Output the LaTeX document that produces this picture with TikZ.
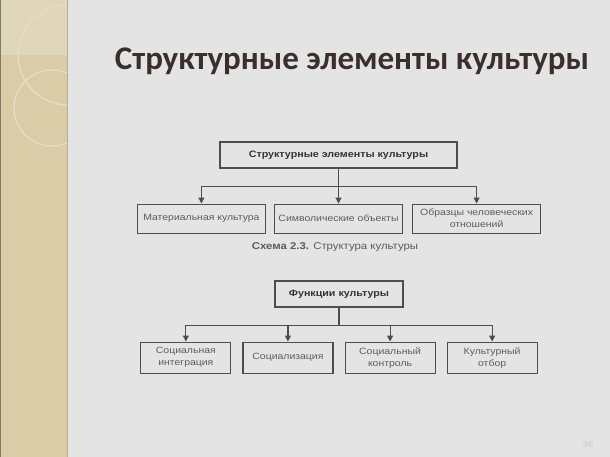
\documentclass[tikz,border=0pt]{standalone}
\usepackage{fontspec}
\setmainfont[FakeStretch=1.15]{Liberation Sans}
\newfontfamily\titlefont{Carlito}
\usetikzlibrary{positioning,arrows.meta}
\definecolor{slidebg}{HTML}{E4E4E4}
\definecolor{bandbg}{HTML}{DACCA7}
\definecolor{bandtop}{HTML}{E0D6BA}
\definecolor{ringcol}{HTML}{E6DCC3}
\definecolor{titlecol}{HTML}{3A2F2B}
\definecolor{boxline}{HTML}{4E4E4E}
\definecolor{boxtext}{HTML}{5C5C5C}

\begin{document}
\begin{tikzpicture}[
    x=1pt, y=-1pt,
    box/.style={draw=boxline, line width=1.1pt, fill=slidebg, text=boxtext, align=center,
        inner sep=1pt, font=\fontsize{9.1}{12}\selectfont},
    headbox/.style={box, font=\fontsize{9.3}{12}\selectfont\bfseries, text=black!80},
    topbox/.style={box, minimum width=128pt, minimum height=29pt},
    funbox/.style={box, minimum width=90pt, minimum height=31pt},
    link/.style={draw=boxline, line width=1.1pt},
    arr/.style={link, -{Triangle[length=6pt,width=6pt]}},
]
% slide background
\fill[slidebg] (0,0) rectangle (610,457);
\useasboundingbox (0,0) rectangle (610,457);
\fill[bandbg] (0,0) rectangle (67,457);
\fill[bandtop] (0,0) rectangle (67,55);
\begin{scope}
  \clip (0,0) rectangle (67,457);
  \draw[ringcol, line width=1.5pt] (68,55) circle[radius=50];
  \draw[ringcol, line width=1.5pt] (52,108) circle[radius=38];
\end{scope}
\draw[bandbg!85!black, line width=1pt] (67,0) -- (67,457);
\draw[bandbg!60!black, line width=1pt] (0.5,0) -- (0.5,457);

% title
\node[font=\titlefont\bfseries\fontsize{33}{36}\selectfont, text=titlecol] (title) at (352,61) {Структурные элементы культуры};

% scheme 2.3
\node[headbox, minimum width=237pt, minimum height=26pt] (elem) at (338.5,155) {Структурные элементы культуры};
\node[topbox, below=35pt of elem] (symb) {Символические объекты};
\node[topbox, left=8pt of symb] (matr) {Материальная культура};
\node[topbox, right=9pt of symb] (obrz) {Образцы человеческих\\отношений};

\draw[link] (elem.south) -- ([yshift=-18pt]elem.south) coordinate (j1);
\draw[arr] (j1) -| (matr.north);
\draw[arr] (j1) -- (symb.north);
\draw[arr] (j1) -| (obrz.north);

\node[text=boxtext, font=\fontsize{9.9}{12}\selectfont] (capt) at (335,247) {\textbf{Схема 2.3.} Структура культуры};

% functions
\node[headbox, minimum width=128pt, minimum height=26pt] (func) at (339,294) {Функции культуры};
\node[funbox, anchor=north east] (soc) at ([xshift=-5.5pt,yshift=-34pt]func.south) {Социализация};
\node[funbox, left=11pt of soc] (intg) {Социальная\\интеграция};
\node[funbox, anchor=north west] (ctrl) at ([xshift=5.5pt,yshift=-34pt]func.south) {Социальный\\контроль};
\node[funbox, right=11pt of ctrl] (otbr) {Культурный\\отбор};

\draw[link] (func.south) -- ([yshift=-18pt]func.south) coordinate (j2);
\draw[arr] (j2) -| (intg.north);
\draw[arr] (j2) -| (soc.north);
\draw[arr] (j2) -| (ctrl.north);
\draw[arr] (j2) -| (otbr.north);

% page number
\node[text=black!22, font=\fontsize{8}{10}\selectfont] (pgno) at (588,445) {36};
\end{tikzpicture}
\end{document}
